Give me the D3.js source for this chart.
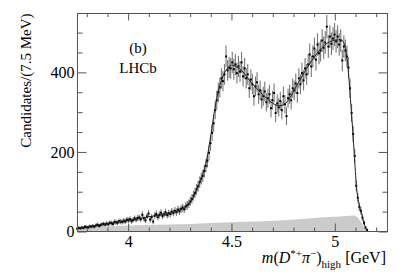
<!DOCTYPE html>
<html>
<head>
<meta charset="utf-8">
<script src="https://cdn.jsdelivr.net/npm/d3@7"></script>
<style>
  body { margin: 0; background: #fff; }
  svg { display: block; font-family: "Liberation Serif", "Times New Roman", serif; }
</style>
</head>
<body>
<svg id="chart" width="407" height="277"></svg>
<script>
// binned data, 7.5 MeV bins starting at 3.75 GeV
const binStart = 3.75
const binWidth = 0.0075
const counts = [
  7, 9, 8, 10, 9, 12, 11, 10, 13, 12,
  14, 12, 15, 17, 14, 16, 18, 19, 17, 20,
  18, 22, 21, 19, 24, 23, 22, 26, 25, 24,
  27, 25, 30, 28, 31, 26, 29, 33, 30, 34,
  35, 31, 42, 33, 28, 38, 45, 30, 36, 25,
  40, 44, 36, 42, 47, 39, 43, 48, 41, 46,
  44, 50, 47, 52, 49, 55, 51, 57, 60, 56,
  63, 66, 70, 76, 82, 90, 97, 106, 114, 124,
  133, 140, 152, 165, 178, 198, 222, 248, 272, 305,
  330, 350, 362, 385, 378, 395, 440, 405, 412, 410,
  425, 408, 420, 398, 415, 402, 425, 390, 410, 385,
  395, 360, 382, 370, 340, 365, 375, 345, 355, 332,
  340, 352, 325, 335, 345, 310, 330, 348, 298, 322,
  312, 328, 305, 340, 320, 290, 335, 345, 330, 360,
  355, 372, 348, 385, 370, 398, 380, 410, 395, 420,
  445, 415, 440, 460, 432, 470, 448, 455, 480, 462,
  475, 515, 465, 490, 472, 485, 495, 478, 490, 470,
  480, 430, 465, 455, 440, 412, 360, 298, 245, 190,
  115, 85, 62, 52, 35, 22, 10, 4
]

// total fit
const fitMass = [3.755, 3.80, 3.85, 3.90, 3.95, 4.00, 4.05, 4.10, 4.15, 4.20, 4.25, 4.30, 4.33, 4.36, 4.38, 4.40, 4.42, 4.44, 4.46, 4.48, 4.50, 4.525, 4.55, 4.60, 4.65, 4.70, 4.73, 4.75, 4.775, 4.80, 4.85, 4.90, 4.95, 5.00, 5.03, 5.05, 5.06, 5.072, 5.08, 5.087, 5.094, 5.105, 5.12, 5.13, 5.14, 5.15, 5.16]
const fitValue = [8, 12, 16, 20, 24, 28, 32, 37, 41, 46, 54, 72, 104, 142, 180, 242, 310, 360, 392, 410, 418, 414, 404, 372, 345, 322, 316, 318, 330, 352, 398, 438, 468, 481, 482, 465, 432, 360, 302, 252, 196, 112, 62, 44, 24, 8, 0]

// background component (grey)
const bkgMass = [3.755, 4.00, 4.30, 4.50, 4.75, 4.90, 5.00, 5.05, 5.09, 5.11, 5.125, 5.14, 5.152, 5.16]
const bkgValue = [10, 15, 19, 23, 28, 34, 37, 39, 40, 36, 25, 12, 4, 0]

const xMajor = [4, 4.5, 5]
const xMinor = [3.8, 3.9, 4.1, 4.2, 4.3, 4.4, 4.6, 4.7, 4.8, 4.9, 5.1, 5.2]
const yMajor = [0, 200, 400]
const yMinor = [50, 100, 150, 250, 300, 350, 450, 500]

const svg = d3.select('#chart')
const padL = 77.5, padR = 387.5, padT = 13.5, padB = 231.5

const x = d3.scaleLinear().domain([3.755, 5.255]).range([padL, padR])
const y = d3.scaleLinear().domain([0, 548]).range([padB, padT])

const points = counts.map((c, i) => ({ m: binStart + (i + 0.5) * binWidth, v: c }))

// background fill
svg.append('path')
  .datum(bkgMass.map((m, i) => ({ m: m, v: bkgValue[i] })))
  .attr('fill', '#cbcbcb')
  .attr('d', d3.area().curve(d3.curveMonotoneX)
    .x(d => x(d.m)).y0(y(0)).y1(d => y(d.v)))

// error bars
svg.append('g').selectAll('line')
  .data(points)
  .enter().append('line')
    .attr('x1', d => x(d.m)).attr('x2', d => x(d.m))
    .attr('y1', d => y(d.v + 1.3 * Math.sqrt(d.v)))
    .attr('y2', d => y(Math.max(0, d.v - 1.3 * Math.sqrt(d.v))))
    .attr('stroke', '#777')
    .attr('stroke-width', 1.1)

// markers
svg.append('g').selectAll('rect')
  .data(points)
  .enter().append('rect')
    .attr('x', d => x(d.m) - 1).attr('y', d => y(d.v) - 1)
    .attr('width', 2).attr('height', 2)
    .attr('fill', '#000')

// fit curve
svg.append('path')
  .datum(fitMass.map((m, i) => ({ m: m, v: fitValue[i] })))
  .attr('fill', 'none')
  .attr('stroke', '#222')
  .attr('stroke-width', 1)
  .attr('d', d3.line().curve(d3.curveMonotoneX).x(d => x(d.m)).y(d => y(d.v)))

// axes with inward ticks
function styleAxis(g) {
  g.select('.domain').remove()
  g.selectAll('line').attr('stroke', '#555')
  g.attr('font-family', null).attr('font-size', 16).selectAll('text').attr('fill', '#000')
}

svg.append('g').attr('transform', `translate(0,${padB})`)
  .call(d3.axisBottom(x).tickValues(xMajor).tickSize(-8).tickPadding(4).tickFormat(d3.format('')))
  .call(styleAxis)
svg.append('g').attr('transform', `translate(0,${padB})`)
  .call(d3.axisBottom(x).tickValues(xMinor).tickSize(-4).tickFormat(''))
  .call(styleAxis)
svg.append('g').attr('transform', `translate(0,${padT})`)
  .call(d3.axisTop(x).tickValues(xMajor).tickSize(-7).tickFormat(''))
  .call(styleAxis)
svg.append('g').attr('transform', `translate(0,${padT})`)
  .call(d3.axisTop(x).tickValues(xMinor).tickSize(-3.5).tickFormat(''))
  .call(styleAxis)

svg.append('g').attr('transform', `translate(${padL},0)`)
  .call(d3.axisLeft(y).tickValues(yMajor).tickSize(-9).tickPadding(3))
  .call(styleAxis)
svg.append('g').attr('transform', `translate(${padL},0)`)
  .call(d3.axisLeft(y).tickValues(yMinor).tickSize(-5).tickFormat(''))
  .call(styleAxis)
svg.append('g').attr('transform', `translate(${padR},0)`)
  .call(d3.axisRight(y).tickValues(yMajor).tickSize(-9).tickFormat(''))
  .call(styleAxis)
svg.append('g').attr('transform', `translate(${padR},0)`)
  .call(d3.axisRight(y).tickValues(yMinor).tickSize(-5).tickFormat(''))
  .call(styleAxis)

// frame
svg.append('rect')
  .attr('x', padL).attr('y', padT)
  .attr('width', padR - padL).attr('height', padB - padT)
  .attr('fill', 'none').attr('stroke', '#555').attr('stroke-width', 1)

// axis titles
svg.append('text')
  .attr('transform', `translate(31,${padT}) rotate(-90)`)
  .attr('text-anchor', 'end')
  .attr('font-size', 15)
  .text('Candidates/(7.5 MeV)')

const xt = svg.append('text')
  .attr('x', 386).attr('y', 263)
  .attr('text-anchor', 'end')
  .attr('font-size', 16)
xt.append('tspan').attr('font-style', 'italic').text('m')
xt.append('tspan').text('(')
xt.append('tspan').attr('font-style', 'italic').text('D')
xt.append('tspan').attr('font-size', 11).attr('dy', -6).text('*+')
xt.append('tspan').attr('font-style', 'italic').attr('dy', 6).text('π')
xt.append('tspan').attr('font-size', 11).attr('dy', -6).text('−')
xt.append('tspan').attr('dy', 6).text(')')
xt.append('tspan').attr('font-size', 11).attr('dy', 5).text('high')
xt.append('tspan').attr('dy', -5).text(' [GeV]')

// labels
svg.append('text').attr('x', 138).attr('y', 53).attr('text-anchor', 'middle')
  .attr('font-size', 15).text('(b)')
svg.append('text').attr('x', 138).attr('y', 73).attr('text-anchor', 'middle')
  .attr('font-size', 15).text('LHCb')
</script>
</body>
</html>
